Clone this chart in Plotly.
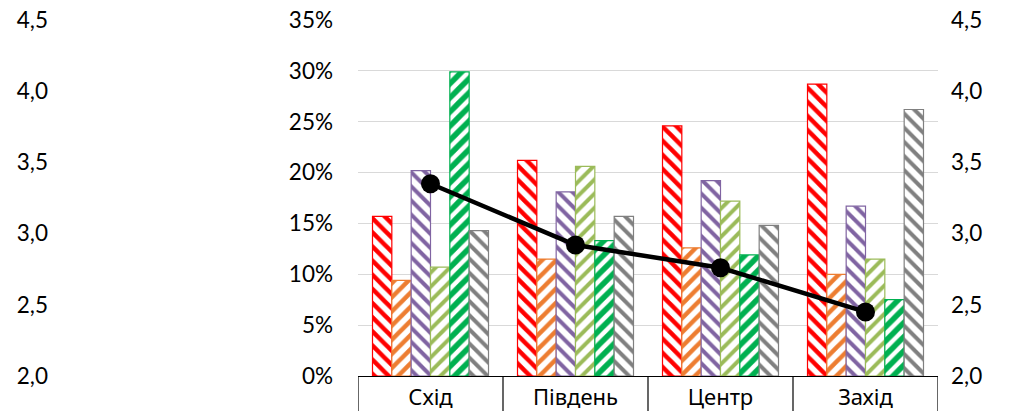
import plotly.graph_objects as go

categories = ["Схід", "Південь", "Центр", "Захід"]
series_names = ["S1", "S2", "S3", "S4", "S5", "S6"]
s1 = [0.157, 0.212, 0.246, 0.287]
s2 = [0.094, 0.115, 0.126, 0.100]
s3 = [0.202, 0.181, 0.192, 0.167]
s4 = [0.107, 0.206, 0.172, 0.115]
s5 = [0.299, 0.133, 0.119, 0.075]
s6 = [0.143, 0.157, 0.148, 0.262]
line_vals = [3.35, 2.92, 2.76, 2.45]
pct_ticks = [0, 0.05, 0.10, 0.15, 0.20, 0.25, 0.30, 0.35]
sec_ticks = [2.0, 2.5, 3.0, 3.5, 4.0, 4.5]

colors = ["#ff0000", "#ed7d31", "#8064a2", "#9bbb59", "#00b050", "#808080"]
shapes_pat = ["\\", "/", "\\", "/", "/", "\\"]
solid = [0.45, 0.45, 0.4, 0.4, 0.55, 0.4]
all_series = [s1, s2, s3, s4, s5, s6]

FONT = "Lato, 'Noto Sans', sans-serif"
W, H = 1009, 411
x0p, x1p = 358, 938
top, bot = 20, 376

fig = go.Figure()
for name, vals, c, sh, so in zip(series_names, all_series, colors, shapes_pat, solid):
    fig.add_trace(go.Bar(
        x=categories, y=vals, name=name, showlegend=False,
        marker=dict(color="white", line=dict(color=c, width=1.2),
                    pattern=dict(shape=sh, fgcolor=c, bgcolor="white", fillmode="overlay",
                                 size=10, solidity=so, fgopacity=1)),
        yaxis="y"))

fig.add_trace(go.Scatter(
    x=categories, y=line_vals, mode="lines+markers", showlegend=False,
    line=dict(color="black", width=4.5), marker=dict(color="black", size=19),
    yaxis="y2"))
# duplicate invisible trace to carry the far-left axis
fig.add_trace(go.Scatter(
    x=categories, y=line_vals, mode="lines", showlegend=False, opacity=0,
    line=dict(width=0), hoverinfo="skip", yaxis="y3"))

tickfont = dict(family=FONT, size=22.5, color="black")
catfont = dict(family="'Noto Sans', sans-serif", size=22, color="black")

# category box dividers
box_shapes = []
for b in [-0.5, 0.5, 1.5, 2.5, 3.5]:
    box_shapes.append(dict(type="line", xref="x", yref="paper", x0=b, x1=b, y0=0, y1=-0.2,
                           line=dict(color="black", width=1.2)))

fig.update_layout(
    width=W, height=H,
    margin=dict(l=0, r=0, t=top, b=H - bot, pad=0, autoexpand=False),
    paper_bgcolor="white", plot_bgcolor="white",
    separators=", ",
    barmode="group", bargap=0.2, bargroupgap=0,
    font=dict(family=FONT, size=22, color="black"),
    xaxis=dict(domain=[x0p / W, x1p / W], type="category", showgrid=False,
               showline=True, linecolor="black", linewidth=1.2, automargin=False,
               tickfont=catfont, ticks="", ticklabelstandoff=1,
               range=[-0.5, 3.5]),
    yaxis=dict(range=[0, 0.35], tickvals=pct_ticks, tickformat=".0%", automargin=False,
               showgrid=True, gridcolor="#d9d9d9", gridwidth=1.2, zeroline=False,
               showline=False, tickfont=tickfont, ticklabelstandoff=24),
    yaxis2=dict(range=[2, 4.5], tickvals=sec_ticks, tickformat=".1f", overlaying="y",
                side="right", showgrid=False, zeroline=False, showline=False, automargin=False,
                tickfont=tickfont, ticklabelstandoff=12),
    yaxis3=dict(range=[2, 4.5], tickvals=sec_ticks, tickformat=".1f", overlaying="y",
                side="left", anchor="free", position=48 / W, showgrid=False, automargin=False,
                zeroline=False, showline=False, tickfont=tickfont, ticklabelstandoff=0),
    shapes=box_shapes,
)

fig.write_html("out.html", post_script="document.body.style.margin='0';",
               config={"displayModeBar": False})
